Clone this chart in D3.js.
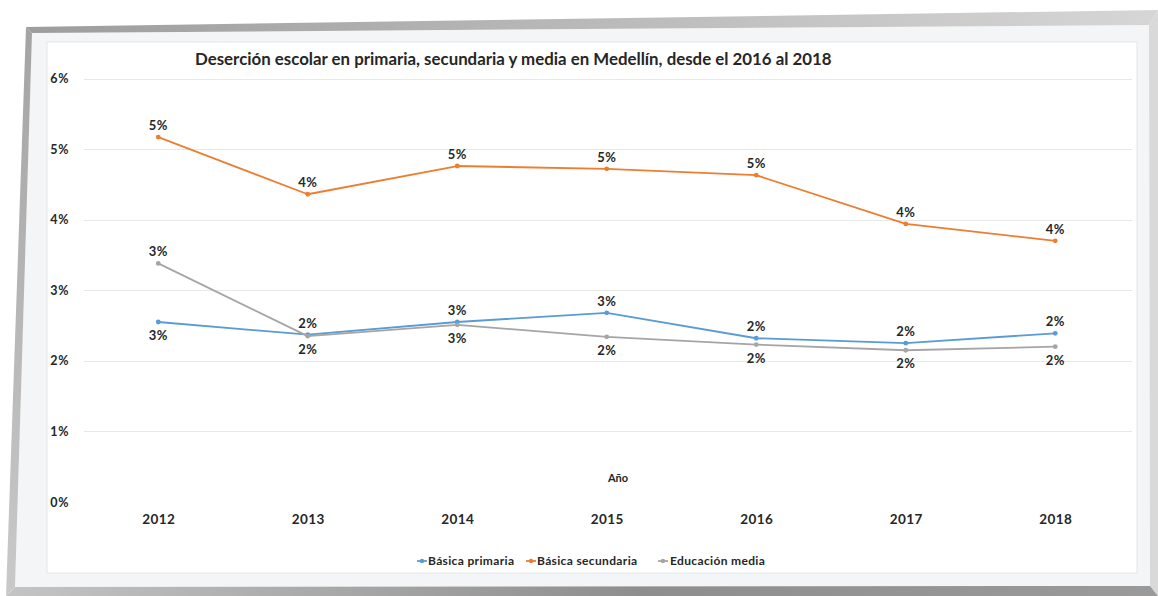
<!DOCTYPE html>
<html>
<head>
<meta charset="utf-8">
<script src="https://cdn.jsdelivr.net/npm/d3@7"></script>
<style>
  html, body { margin: 0; padding: 0; background: #ffffff; }
  svg { display: block; }
  text { font-family: Lato, "Noto Sans", sans-serif; fill: #262626; }
</style>
</head>
<body>
<svg id="chart" width="1158" height="596"></svg>
<script>
// Dropout rate (%) per year and level
const years = ["2012", "2013", "2014", "2015", "2016", "2017", "2018"];
const primaria = [2.55, 2.37, 2.55, 2.68, 2.32, 2.25, 2.39];
const secundaria = [5.17, 4.36, 4.76, 4.72, 4.63, 3.94, 3.70];
const media = [3.38, 2.35, 2.51, 2.34, 2.23, 2.15, 2.20];
const yTicks = [0, 1, 2, 3, 4, 5, 6];
const seriesNames = ["Básica primaria", "Básica secundaria", "Educación media"];
const seriesColors = ["#5b9bd5", "#ed7d31", "#a5a5a5"];
const title = "Deserción escolar en primaria, secundaria y media en Medellín, desde el 2016 al 2018";
const xTitle = "Año";

const series = [primaria, secundaria, media].map((values, i) => ({
  name: seriesNames[i], color: seriesColors[i], values
}));

const svg = d3.select("#chart");

// ---- picture frame ----
const defs = svg.append("defs");
const gTop = defs.append("linearGradient").attr("id", "gTop");
gTop.append("stop").attr("offset", "0%").attr("stop-color", "#9d9d9d");
gTop.append("stop").attr("offset", "100%").attr("stop-color", "#d6d6d6");
const gBottom = defs.append("linearGradient").attr("id", "gBottom");
gBottom.append("stop").attr("offset", "0%").attr("stop-color", "#c4c4c4");
gBottom.append("stop").attr("offset", "55%").attr("stop-color", "#8e8e8e");
gBottom.append("stop").attr("offset", "100%").attr("stop-color", "#9a9a9a");
const gLeft = defs.append("linearGradient").attr("id", "gLeft")
  .attr("x1", 0).attr("y1", 0).attr("x2", 0).attr("y2", 1);
gLeft.append("stop").attr("offset", "0%").attr("stop-color", "#a4a4a4");
gLeft.append("stop").attr("offset", "100%").attr("stop-color", "#c9c9c9");

const oTL = [26, 27], oTR = [1158, 10], oBR = [1158, 596], oBL = [6, 596];
const iTL = [32, 33], iTR = [1149, 25], iBR = [1150, 586], iBL = [15, 587];
const poly = pts => pts.map(p => p.join(",")).join(" ");

const frame = svg.append("g");
frame.append("polygon").attr("points", poly([iTL, iTR, iBR, iBL])).attr("fill", "#f3f5f7");
frame.append("polygon").attr("points", poly([oTL, oTR, iTR, iTL])).attr("fill", "url(#gTop)");
frame.append("polygon").attr("points", poly([oTR, oBR, iBR, iTR])).attr("fill", "#d9d9d9");
frame.append("polygon").attr("points", poly([oBL, iBL, iBR, oBR])).attr("fill", "url(#gBottom)");
frame.append("polygon").attr("points", poly([oTL, iTL, iBL, oBL])).attr("fill", "url(#gLeft)");
frame.append("rect")
  .attr("x", 47).attr("y", 42).attr("width", 1090).attr("height", 531)
  .attr("fill", "#ffffff").attr("stroke", "#e4e6e8").attr("stroke-width", 1);

// ---- scales ----
const x = d3.scalePoint().domain(years).range([83.5, 1130]).padding(0.5);
const y = d3.scaleLinear().domain([0, 6]).range([502, 78.5]);

// gridlines (no line at zero)
svg.append("g").selectAll("line")
  .data(yTicks.filter(t => t > 0))
  .join("line")
  .attr("x1", 84).attr("x2", 1132)
  .attr("y1", d => Math.round(y(d)) + 0.5).attr("y2", d => Math.round(y(d)) + 0.5)
  .attr("stroke", "#e8e8e8").attr("stroke-width", 1);

// y axis labels
const yAxis = d3.axisLeft(y).tickValues(yTicks).tickFormat(d => d + "%").tickSize(0).tickPadding(0);
const yg = svg.append("g").attr("transform", "translate(69,0)").call(yAxis);
yg.select(".domain").remove();
yg.selectAll("text")
  .attr("font-family", "Lato, sans-serif").attr("font-size", 12.5).attr("font-weight", 700)
  .attr("letter-spacing", 0.6)
  .attr("fill", "#303030");

// x axis labels
const xAxis = d3.axisBottom(x).tickSize(0).tickPadding(0);
const xg = svg.append("g").attr("transform", "translate(0,514)").call(xAxis);
xg.select(".domain").remove();
xg.selectAll("text")
  .attr("font-family", "Lato, sans-serif").attr("font-size", 13.5).attr("font-weight", 700)
  .attr("letter-spacing", 0.4)
  .attr("fill", "#262626");

// axis title
svg.append("text")
  .attr("x", 618).attr("y", 482)
  .attr("text-anchor", "middle")
  .attr("font-size", 11).attr("font-weight", 700)
  .text(xTitle);

// chart title, fitted to its width
const titleText = svg.append("text")
  .attr("x", 195).attr("y", 65)
  .attr("font-size", 14).attr("font-weight", 700)
  .attr("fill", "#1a1a1a")
  .text(title);
const tw = titleText.node().getComputedTextLength();
titleText.attr("font-size", 14 * 637 / tw);

// ---- lines ----
const line = d3.line().x((d, i) => x(years[i])).y(d => y(d));
const fmt = v => Math.round(v) + "%";

series.forEach((s, si) => {
  const g = svg.append("g");
  g.append("path")
    .attr("d", line(s.values))
    .attr("fill", "none").attr("stroke", s.color).attr("stroke-width", 1.8)
    .attr("stroke-linejoin", "round");
  g.selectAll("circle")
    .data(s.values)
    .join("circle")
    .attr("cx", (d, i) => x(years[i])).attr("cy", d => y(d))
    .attr("r", 2.4).attr("fill", s.color);
});

// data labels: placed on the side away from the nearest other series
series.forEach((s, si) => {
  const g = svg.append("g");
  s.values.forEach((v, i) => {
    let nearest = null;
    series.forEach((o, oi) => {
      if (oi === si) return;
      const ov = o.values[i];
      if (nearest === null || Math.abs(ov - v) < Math.abs(nearest - v)) nearest = ov;
    });
    const above = v >= nearest;
    g.append("text")
      .attr("x", x(years[i]))
      .attr("y", y(v) + (above ? -7 : 18))
      .attr("text-anchor", "middle")
      .attr("font-size", 13).attr("font-weight", 700)
      .attr("letter-spacing", 0.4)
      .attr("fill", "#262626")
      .text(fmt(v));
  });
});

// ---- legend ----
const legendItems = [
  { x: 417, tx: 428 },
  { x: 526, tx: 537 },
  { x: 658, tx: 670 }
];
const lg = svg.append("g");
series.forEach((s, i) => {
  const it = legendItems[i];
  lg.append("line")
    .attr("x1", it.x).attr("x2", it.x + 10).attr("y1", 561).attr("y2", 561)
    .attr("stroke", s.color).attr("stroke-width", 1.8);
  lg.append("circle").attr("cx", it.x + 5).attr("cy", 561).attr("r", 2.2).attr("fill", s.color);
  lg.append("text")
    .attr("x", it.tx).attr("y", 565)
    .attr("font-size", 12).attr("font-weight", 700)
    .attr("letter-spacing", 0.35)
    .attr("fill", "#333333")
    .text(s.name);
});
</script>
</body>
</html>
